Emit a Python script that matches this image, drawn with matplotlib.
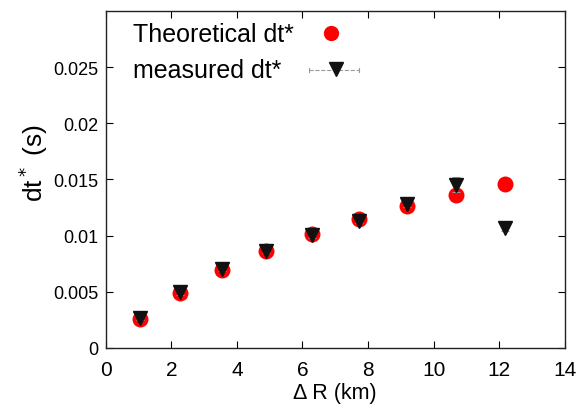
import matplotlib
matplotlib.use("Agg")
import matplotlib.pyplot as plt

plt.rcParams['font.family'] = ['Liberation Sans', 'DejaVu Sans']

delta_r = [1.04, 2.26, 3.55, 4.90, 6.28, 7.74, 9.19, 10.69, 12.19]
theoretical = [0.00257, 0.00488, 0.00694, 0.00866, 0.01013, 0.0115, 0.01262, 0.01362, 0.0146]
measured = [0.00266, 0.00494, 0.00706, 0.00863, 0.01002, 0.01129, 0.01277, 0.01454, 0.01064]
measured_err = [0.0002, 0.0002, 0.0002, 0.0002, 0.0002, 0.0002, 0.0002, 0.0007, 0.0002]
xticks = [0, 2, 4, 6, 8, 10, 12, 14]
yticks = [0, 0.005, 0.01, 0.015, 0.02, 0.025]
ytick_labels = ['0', '0.005', '0.01', '0.015', '0.02', '0.025']
legend_labels = ['Theoretical dt*', 'measured dt*']

fig = plt.figure(figsize=(5.78, 4.10), dpi=100)
ax = fig.add_axes([0.183, 0.149, 0.794, 0.822])

ax.plot(delta_r, theoretical, 'o', color='#ff0000', markersize=11.5, markeredgewidth=0, zorder=2)
ax.errorbar(delta_r, measured, yerr=measured_err, fmt='v', color='#111111', markersize=9.5,
            ecolor='#999999', elinewidth=0.8, capsize=3, capthick=0.8, zorder=3)

ax.set_xlim(0, 14)
ax.set_ylim(0, 0.03)
ax.set_xticks(xticks)
ax.set_xticklabels([str(t) for t in xticks], fontsize=15)
ax.set_yticks(yticks)
ax.set_yticklabels(ytick_labels, fontsize=13)
ax.tick_params(direction='in', top=True, right=True, length=5, width=0.8)
ax.tick_params(axis='x', pad=9)
ax.tick_params(axis='y', pad=5.5)
for s in ax.spines.values():
    s.set_linewidth(1.0)
    s.set_color('#222222')

ax.set_xlabel('Δ R (km)', fontsize=15.5, labelpad=2)
ax.set_ylabel(r'dt$^*$ (s)', fontsize=19)
ax.yaxis.set_label_coords(-0.122, 0.552)

# legend (gnuplot style: text left-aligned, sample to the right)
ax.text(0.0588, 0.912, legend_labels[0], transform=ax.transAxes, fontsize=18,
        ha='left', va='baseline')
ax.text(0.0588, 0.803, legend_labels[1], transform=ax.transAxes, fontsize=18,
        ha='left', va='baseline')
ax.plot([0.4917], [0.934], 'o', transform=ax.transAxes, color='#ff0000',
        markersize=11, markeredgewidth=0, clip_on=False)
ax.plot([0.4438, 0.5527], [0.826, 0.826], '--', transform=ax.transAxes,
        color='#999999', lw=0.8, clip_on=False)
for xe in (0.4438, 0.5527):
    ax.plot([xe, xe], [0.820, 0.832], '-', transform=ax.transAxes,
            color='#999999', lw=0.8, clip_on=False)
ax.plot([0.5026], [0.828], 'v', transform=ax.transAxes, color='#111111',
        markersize=9.5, clip_on=False)

fig.savefig('out.png', dpi=100)
